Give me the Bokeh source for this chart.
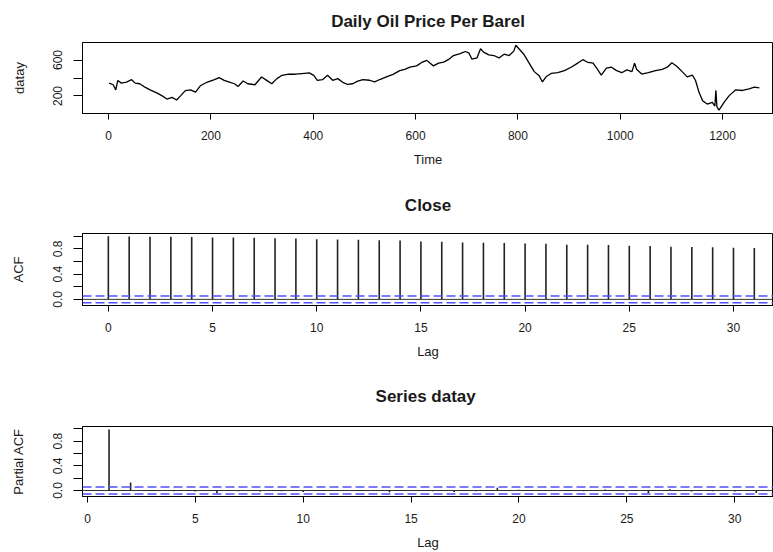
from bokeh.plotting import figure
from bokeh.layouts import column
from bokeh.models import Range1d, FixedTicker, Span
from bokeh.embed import file_html
from bokeh.resources import INLINE

# ---------------- data ----------------
time_idx = [1, 9, 14, 18, 25, 35, 45, 52, 61, 71, 81, 94, 104, 114, 124, 133, 141, 150,
            160, 170, 180, 193, 207, 216, 226, 236, 246, 253, 263, 272, 286, 299, 309,
            319, 329, 339, 352, 365, 378, 392, 401, 408, 418, 428, 438, 448, 457, 467,
            477, 487, 497, 510, 520, 530, 543, 556, 569, 579, 589, 602, 612, 622, 628,
            635, 645, 655, 664, 674, 687, 697, 704, 710, 720, 727, 733, 743, 753, 763,
            773, 783, 792, 796, 802, 812, 822, 832, 842, 848, 855, 865, 878, 891, 904,
            917, 927, 937, 947, 954, 963, 973, 983, 993, 1003, 1013, 1023, 1028, 1032,
            1042, 1055, 1069, 1082, 1092, 1101, 1111, 1121, 1131, 1141, 1147, 1154, 1161,
            1170, 1180, 1185, 1187, 1189, 1193, 1203, 1213, 1226, 1239, 1252, 1262, 1272]
price = [343, 325, 268, 373, 343, 355, 381, 343, 336, 298, 268, 234, 204, 166, 185, 155, 204, 260,
         268, 242, 317, 355, 381, 404, 374, 355, 336, 306, 366, 336, 325, 411, 374,
         336, 393, 430, 442, 442, 449, 457, 430, 374, 381, 430, 374, 393, 355, 328,
         336, 366, 381, 375, 356, 383, 413, 440, 482, 497, 520, 535, 573, 596, 566,
         535, 566, 577, 604, 650, 672, 695, 680, 611, 623, 726, 688, 657, 650, 623,
         665, 650, 699, 764, 726, 661, 566, 471, 421, 356, 413, 451, 459, 482, 520,
         566, 604, 573, 566, 509, 433, 509, 520, 482, 459, 490, 471, 566, 497,
         444, 459, 482, 497, 520, 570, 528, 471, 413, 432, 375, 242, 147,
         110, 128, 88, 262, 80, 42, 128, 204, 269, 261, 280, 299, 291]

acf_lags = list(range(0, 32))
acf_vals = [1.000, 0.996, 0.991, 0.989, 0.986, 0.980, 0.977, 0.974, 0.966, 0.963, 0.952,
            0.948, 0.945, 0.935, 0.931, 0.915, 0.911, 0.900, 0.896, 0.893, 0.882, 0.879,
            0.866, 0.863, 0.860, 0.847, 0.844, 0.832, 0.829, 0.826, 0.816, 0.814]

pacf_lags = list(range(1, 32))
pacf_vals = [0.990, 0.130, 0.010, -0.010, -0.015, -0.045, -0.010, -0.015, -0.010, -0.025,
             0.005, -0.005, 0.005, -0.030, 0.005, -0.010, -0.025, -0.010, 0.045, 0.012,
             -0.005, 0.005, -0.010, 0.015, -0.010, -0.040, 0.020, -0.015, -0.010, -0.015,
             -0.040]

conf_limit = 0.055

price_xticks = [0, 200, 400, 600, 800, 1000, 1200]
price_yticks = [200, 400, 600]
lag_ticks = [0, 5, 10, 15, 20, 25, 30]
cor_yticks = [0.0, 0.2, 0.4, 0.6, 0.8, 1.0]
cor_labels = {0.0: "0.0", 0.2: "", 0.4: "0.4", 0.6: "", 0.8: "0.8", 1.0: ""}

# ---------------- styling helpers ----------------
W = 773
FONT = "Liberation Sans"
TXT = "#1a1a1a"
BLUE = "#5050ff"


def make_fig(height, top, bottom, title, xr, yr, xlabel, ylabel, xticks, yticks,
             yover, title_standoff, ylab_standoff):
    p = figure(width=W, height=height, x_range=xr, y_range=yr, title=title,
               output_backend="svg", toolbar_location=None,
               min_border_left=82, min_border_right=0,
               min_border_top=top, min_border_bottom=bottom)
    p.title.align = "center"
    p.title.vertical_align = "top"
    p.title.text_font = FONT
    p.title.text_font_size = "17px"
    p.title.text_font_style = "bold"
    p.title.text_color = TXT
    p.title.standoff = title_standoff
    p.outline_line_color = "black"
    p.outline_line_alpha = 1.0
    p.outline_line_width = 1
    p.xgrid.visible = False
    p.ygrid.visible = False
    p.background_fill_color = "white"
    p.border_fill_color = "white"

    xa = p.xaxis[0]
    xa.ticker = FixedTicker(ticks=xticks)
    xa.minor_tick_line_color = None
    xa.major_tick_in = 0
    xa.major_tick_out = 6
    xa.major_label_standoff = 11
    xa.major_label_text_font = FONT
    xa.major_label_text_font_size = "12px"
    xa.major_label_text_color = TXT
    xa.axis_label = xlabel
    xa.axis_label_text_font = FONT
    xa.axis_label_text_font_size = "13px"
    xa.axis_label_text_font_style = "normal"
    xa.axis_label_text_color = TXT
    xa.axis_label_standoff = 9
    xa.axis_line_color = "black"

    ya = p.yaxis[0]
    ya.ticker = FixedTicker(ticks=yticks)
    ya.major_label_overrides = yover
    ya.minor_tick_line_color = None
    ya.major_tick_in = 0
    ya.major_tick_out = 9
    ya.major_label_orientation = "vertical"
    ya.major_label_standoff = 11
    ya.major_label_text_font = FONT
    ya.major_label_text_font_size = "12px"
    ya.major_label_text_color = TXT
    ya.axis_label = ylabel
    ya.axis_label_text_font = FONT
    ya.axis_label_text_font_size = "13px"
    ya.axis_label_text_font_style = "normal"
    ya.axis_label_text_color = TXT
    ya.axis_label_standoff = ylab_standoff
    ya.axis_line_color = "black"
    return p


# ---------------- panel 1: price series ----------------
p1 = make_fig(177, 42, 64, "Daily Oil Price Per Barel",
              Range1d(-51, 1299.6), Range1d(5, 795), "Time", "datay",
              price_xticks, price_yticks, {400: ""}, 19, 24)
p1.line(time_idx, price, line_color="black", line_width=1.3)

# ---------------- panel 2: ACF ----------------
p2 = make_fig(189, 56, 61, "Close",
              Range1d(-1.24, 31.92), Range1d(-0.097, 1.042), "Lag", "ACF",
              lag_ticks, cor_yticks, cor_labels, 33, 25)
p2.segment(x0=acf_lags, y0=[0] * len(acf_lags), x1=acf_lags, y1=acf_vals,
           line_color="#222222", line_width=1.6)
p2.add_layout(Span(location=0, dimension="width", line_color="#333333", line_width=1))
for c in (conf_limit, -conf_limit):
    p2.add_layout(Span(location=c, dimension="width", line_color=BLUE,
                       line_width=1.5, line_dash="9 4"))

# ---------------- panel 3: PACF ----------------
p3 = make_fig(186, 60, 55, "Series  datay",
              Range1d(-0.23, 31.80), Range1d(-0.097, 1.037), "Lag", "Partial ACF",
              lag_ticks, cor_yticks, cor_labels, 37, 25)
p3.segment(x0=pacf_lags, y0=[0] * len(pacf_lags), x1=pacf_lags, y1=pacf_vals,
           line_color="#222222", line_width=1.6)
p3.add_layout(Span(location=0, dimension="width", line_color="#333333", line_width=1))
for c in (conf_limit, -conf_limit):
    p3.add_layout(Span(location=c, dimension="width", line_color=BLUE,
                       line_width=1.5, line_dash="9 4"))

layout = column(p1, p2, p3, spacing=0)
open("out.html", "w").write(file_html(layout, INLINE))
